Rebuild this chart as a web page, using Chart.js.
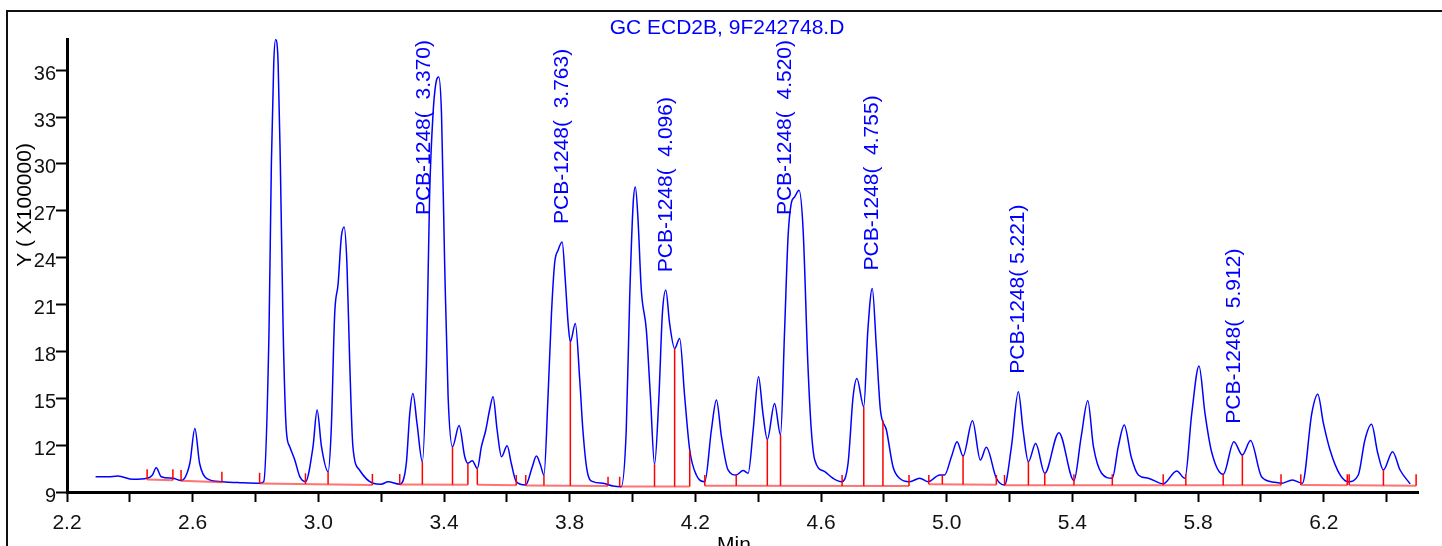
<!DOCTYPE html>
<html>
<head>
<meta charset="utf-8">
<title>GC ECD2B, 9F242748.D</title>
<script src="https://cdn.jsdelivr.net/npm/chart.js@4.4.1/dist/chart.umd.min.js"></script>
<style>
  html, body { margin: 0; padding: 0; background: #fff; }
  #wrap { width: 1442px; height: 546px; position: relative; }
</style>
</head>
<body>
<div id="wrap"><canvas id="chrom"></canvas></div>
<script>
// chromatogram data (min, Y x100000)
const traceTimes = [
  2.291, 2.330, 2.362, 2.410, 2.455, 2.472, 2.484, 2.500, 2.537, 2.563,
  2.591, 2.607, 2.622, 2.644, 2.693, 2.750, 2.813, 2.826, 2.843, 2.8505,
  2.858, 2.864, 2.872, 2.879, 2.888, 2.898, 2.909, 2.925, 2.941, 2.959,
  2.983, 2.996, 3.010, 3.031, 3.041, 3.052, 3.063, 3.073, 3.082, 3.091,
  3.100, 3.110, 3.131, 3.174, 3.200, 3.222, 3.259, 3.280, 3.291, 3.301,
  3.314, 3.331, 3.344, 3.354, 3.365, 3.376, 3.383, 3.392, 3.402, 3.413,
  3.427, 3.448, 3.466, 3.476, 3.490, 3.506, 3.519, 3.533, 3.545, 3.556,
  3.569, 3.583, 3.601, 3.614, 3.630, 3.660, 3.681, 3.694, 3.707, 3.718,
  3.731, 3.742, 3.752, 3.763, 3.776, 3.786, 3.795, 3.802, 3.818, 3.832,
  3.842, 3.855, 3.874, 3.906, 3.938, 3.964, 3.980, 3.991, 4.002, 4.009,
  4.017, 4.028, 4.044, 4.057, 4.070, 4.084, 4.095, 4.106, 4.118, 4.134,
  4.150, 4.166, 4.182, 4.203, 4.230, 4.251, 4.267, 4.283, 4.304, 4.330,
  4.352, 4.368, 4.384, 4.401, 4.415, 4.429, 4.452, 4.471, 4.484, 4.495,
  4.505, 4.516, 4.530, 4.543, 4.558, 4.569, 4.580, 4.612, 4.638, 4.665,
  4.686, 4.702, 4.714, 4.736, 4.749, 4.763, 4.776, 4.789, 4.808, 4.829,
  4.850, 4.882, 4.914, 4.940, 4.978, 4.993, 5.015, 5.033, 5.052, 5.082,
  5.107, 5.126, 5.158, 5.184, 5.206, 5.228, 5.243, 5.260, 5.283, 5.312,
  5.357, 5.405, 5.428, 5.449, 5.467, 5.493, 5.527, 5.546, 5.565, 5.587,
  5.610, 5.642, 5.689, 5.732, 5.758, 5.780, 5.803, 5.822, 5.843, 5.880,
  5.914, 5.941, 5.967, 6.002, 6.045, 6.066, 6.100, 6.132, 6.162, 6.181,
  6.199, 6.220, 6.252, 6.278, 6.310, 6.331, 6.352, 6.372, 6.390, 6.419,
  6.443, 6.475
];
const traceValues = [
  9.98, 9.98, 10.02, 9.81, 9.88, 10.09, 10.55, 9.98, 9.88, 9.73,
  10.84, 13.07, 10.84, 9.88, 9.66, 9.60, 9.56, 9.66, 19.36, 30.03,
  36.43, 37.96, 36.43, 30.03, 19.36, 12.97, 11.90, 11.05, 9.98, 9.66,
  11.90, 14.25, 11.90, 10.30, 12.97, 20.40, 22.35, 25.30, 25.97, 23.60,
  17.20, 11.90, 10.41, 9.56, 9.50, 9.65, 9.50, 10.84, 14.04, 15.31,
  13.39, 10.94, 17.23, 27.90, 33.20, 35.36, 35.57, 33.20, 23.63, 15.10,
  11.90, 13.25, 11.26, 10.84, 11.00, 10.51, 11.90, 12.97, 14.25, 15.10,
  12.97, 11.26, 11.96, 10.84, 9.66, 9.45, 10.62, 11.30, 10.73, 10.09,
  15.10, 20.43, 23.63, 24.48, 25.01, 22.56, 19.79, 18.62, 19.79, 16.17,
  12.97, 10.41, 9.66, 9.56, 9.38, 9.34, 12.97, 21.49, 27.46, 28.53,
  26.61, 21.92, 19.36, 15.10, 10.77, 15.10, 20.43, 21.92, 19.79, 18.19,
  18.83, 15.10, 11.69, 10.09, 9.66, 12.97, 14.89, 12.54, 10.41, 10.09,
  10.37, 10.20, 12.97, 16.38, 14.04, 12.37, 14.67, 12.65, 19.36, 25.33,
  27.46, 27.89, 28.32, 25.76, 17.23, 12.97, 11.05, 10.30, 9.88, 9.66,
  10.84, 15.10, 16.27, 14.46, 19.36, 22.03, 18.30, 14.25, 12.97, 10.62,
  9.88, 9.66, 9.88, 9.66, 10.09, 10.09, 11.26, 12.22, 11.30, 13.56,
  11.05, 11.86, 9.88, 9.45, 11.90, 15.42, 12.97, 10.94, 12.10, 10.20,
  12.80, 9.73, 12.54, 14.84, 11.90, 10.20, 9.88, 11.90, 13.29, 11.26,
  10.09, 9.88, 9.52, 10.35, 9.88, 14.04, 17.07, 14.04, 11.58, 10.13,
  12.22, 11.37, 12.29, 9.98, 9.62, 9.56, 9.77, 9.56, 14.04, 15.25,
  13.39, 11.69, 10.09, 9.66, 10.09, 12.33, 13.33, 11.48, 10.41, 11.58,
  10.41, 9.52
];

// integration baseline segments
const segStart = [2.455, 2.563, 2.813, 3.259, 3.506, 3.660, 3.959, 4.230, 4.943, 5.184, 6.127, 6.281];
const segEnd = [2.537, 2.693, 3.172, 3.476, 3.630, 3.922, 4.182, 4.880, 5.158, 6.064, 6.275, 6.494];
const segStartValue = [9.80, 9.72, 9.55, 9.48, 9.46, 9.42, 9.36, 9.40, 9.50, 9.44, 9.45, 9.44];
const segEndValue = [9.76, 9.62, 9.45, 9.46, 9.44, 9.38, 9.36, 9.38, 9.46, 9.44, 9.44, 9.40];

// peak start / end and drop marks
const markTimes = [
  2.455, 2.537, 2.563, 2.693, 2.813, 2.959, 3.031, 3.172, 3.259, 3.331,
  3.427, 3.476, 3.506, 3.630, 3.660, 3.718, 3.802, 3.922, 3.959, 4.070,
  4.134, 4.182, 4.230, 4.330, 4.429, 4.471, 4.667, 4.736, 4.797, 4.880,
  4.943, 4.986, 5.052, 5.158, 5.184, 5.260, 5.312, 5.405, 5.527, 5.689,
  5.761, 5.880, 5.941, 6.064, 6.127, 6.275, 6.281, 6.390, 6.494
];
const markTops = [
  10.45, 10.45, 10.41, 10.30, 10.24, 10.20, 10.30, 10.15, 10.15, 10.94,
  11.90, 10.84, 10.51, 10.09, 10.09, 10.09, 18.62, 9.98, 9.98, 10.77,
  18.19, 11.69, 10.09, 10.09, 12.37, 12.65, 10.09, 14.46, 13.60, 10.09,
  10.09, 10.09, 11.30, 10.09, 10.09, 10.94, 10.20, 10.13, 10.13, 10.13,
  10.13, 10.13, 11.37, 10.13, 10.13, 10.13, 10.13, 10.41, 10.13
];

// identified peaks
const peakLabels = ['PCB-1248(  3.370)', 'PCB-1248(  3.763)', 'PCB-1248(  4.096)', 'PCB-1248(  4.520)',
  'PCB-1248(  4.755)', 'PCB-1248( 5.221)', 'PCB-1248(  5.912)'];
const peakApexTimes = [3.383, 3.776, 4.106, 4.530, 4.763, 5.228, 5.914];
const peakApexValues = [35.57, 25.01, 21.92, 28.32, 22.03, 15.42, 12.22];

const xTicks = [2.2, 2.4, 2.6, 2.8, 3.0, 3.2, 3.4, 3.6, 3.8, 4.0, 4.2, 4.4, 4.6, 4.8, 5.0, 5.2, 5.4, 5.6, 5.8, 6.0, 6.2, 6.4];
const yTicks = [9, 12, 15, 18, 21, 24, 27, 30, 33, 36];

const FONT = '"Liberation Sans", Arial, sans-serif';

function baselineAt(t) {
  for (let i = 0; i < segStart.length; i++) {
    if (t >= segStart[i] - 0.002 && t <= segEnd[i] + 0.002) {
      const f = (t - segStart[i]) / (segEnd[i] - segStart[i]);
      return segStartValue[i] + (segEndValue[i] - segStartValue[i]) * Math.max(0, Math.min(1, f));
    }
  }
  return 9.45;
}

const traceData = traceTimes.map((t, i) => ({ x: t, y: traceValues[i] }));

const baselineData = [];
segStart.forEach((s, i) => {
  baselineData.push({ x: s, y: segStartValue[i] });
  baselineData.push({ x: segEnd[i], y: segEndValue[i] });
  baselineData.push({ x: segEnd[i], y: null });
});

const markData = [];
markTimes.forEach((t, i) => {
  markData.push({ x: t, y: baselineAt(t) });
  markData.push({ x: t, y: markTops[i] });
  markData.push({ x: t, y: null });
});

// frame, titles and peak names
const decorPlugin = {
  id: 'decor',
  afterDraw(chart) {
    const ctx = chart.ctx;
    const x = chart.scales.x;
    const y = chart.scales.y;
    const area = chart.chartArea;
    ctx.save();

    ctx.strokeStyle = '#111';
    ctx.lineWidth = 2;
    ctx.beginPath();
    ctx.moveTo(7, 560);
    ctx.lineTo(7, 11);
    ctx.lineTo(1450, 11);
    ctx.stroke();

    ctx.fillStyle = '#0000ff';
    ctx.font = '21px ' + FONT;
    ctx.textAlign = 'center';
    ctx.textBaseline = 'alphabetic';
    ctx.fillText('GC ECD2B, 9F242748.D', 727, 34);

    ctx.fillStyle = '#000';
    ctx.textBaseline = 'top';
    ctx.fillText('Min', 734, 535);

    ctx.save();
    ctx.translate(25, 205);
    ctx.rotate(-Math.PI / 2);
    ctx.textBaseline = 'middle';
    ctx.fillText('Y ( X100000)', 0, 0);
    ctx.restore();

    ctx.fillStyle = '#0000ff';
    ctx.textAlign = 'left';
    ctx.textBaseline = 'middle';
    peakLabels.forEach((label, i) => {
      const w = ctx.measureText(label).width;
      const apexY = y.getPixelForValue(peakApexValues[i]);
      let startY = apexY - 18;
      let px = x.getPixelForValue(peakApexTimes[i]);
      if (startY - w < area.top + 1) {
        startY = area.top + 1 + w;
        px -= 14;
      }
      ctx.save();
      ctx.translate(px, startY);
      ctx.rotate(-Math.PI / 2);
      ctx.fillText(label, 0, 0);
      ctx.restore();
    });

    ctx.restore();
  }
};

const chromEl = document.getElementById('chrom');
chromEl.width = 1442;
chromEl.height = 546;

new Chart(chromEl, {
  type: 'line',
  data: {
    datasets: [
      {
        label: 'marks',
        data: markData,
        borderColor: '#ff0000',
        borderWidth: 1.5,
        pointRadius: 0,
        tension: 0,
        spanGaps: false,
        order: 0
      },
      {
        label: 'baseline',
        data: baselineData,
        borderColor: 'rgba(255, 40, 40, 0.65)',
        borderWidth: 2,
        pointRadius: 0,
        tension: 0,
        spanGaps: false,
        order: 1
      },
      {
        label: 'signal',
        data: traceData,
        borderColor: '#0000ff',
        borderWidth: 1.5,
        pointRadius: 0,
        cubicInterpolationMode: 'monotone',
        order: 2
      }
    ]
  },
  options: {
    responsive: false,
    animation: false,
    events: [],
    layout: { padding: { left: 0, right: 24, top: 39, bottom: 0 } },
    plugins: {
      legend: { display: false },
      tooltip: { enabled: false },
      title: { display: false }
    },
    scales: {
      x: {
        type: 'linear',
        min: 2.2,
        max: 6.5,
        afterBuildTicks: scale => { scale.ticks = xTicks.map(v => ({ value: v })); },
        afterFit: scale => { scale.height = 54; },
        border: { display: true, color: '#000', width: 3 },
        grid: { drawOnChartArea: false, drawTicks: true, tickLength: 10, tickWidth: 2, tickColor: '#000' },
        ticks: {
          autoSkip: false,
          maxRotation: 0,
          padding: 9,
          color: '#111',
          font: { family: FONT, size: 21 },
          callback: v => (Math.round(v * 10) % 4 === 2 ? v.toFixed(1) : '')
        }
      },
      y: {
        min: 9,
        max: 38,
        afterBuildTicks: scale => { scale.ticks = yTicks.map(v => ({ value: v })); },
        afterFit: scale => { scale.width = 67; },
        border: { display: true, color: '#000', width: 3 },
        grid: { drawOnChartArea: false, drawTicks: true, tickLength: 11, tickWidth: 2, tickColor: '#000' },
        ticks: {
          padding: 0,
          labelOffset: 4,
          color: '#111',
          font: { family: FONT, size: 20 },
          callback: v => String(v)
        }
      }
    }
  },
  plugins: [decorPlugin]
});
</script>
</body>
</html>
